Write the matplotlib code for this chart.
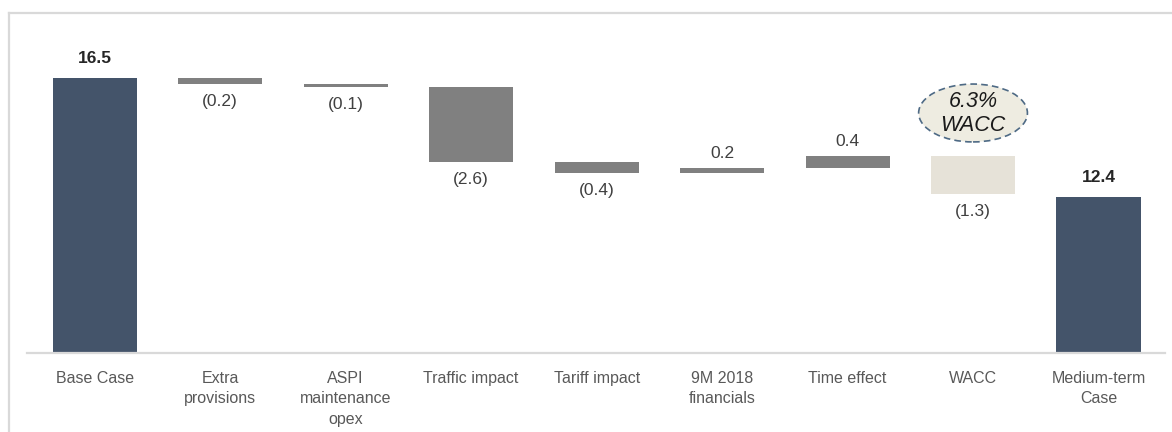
import matplotlib
matplotlib.use("Agg")
import matplotlib.pyplot as plt
from matplotlib.patches import Ellipse
from matplotlib.lines import Line2D

plt.rcParams['font.family'] = ['Liberation Sans', 'DejaVu Sans']

categories = ["Base Case", "Extra\nprovisions", "ASPI\nmaintenance\nopex", "Traffic impact",
              "Tariff impact", "9M 2018\nfinancials", "Time effect", "WACC", "Medium-term\nCase"]
start_value = 16.5
deltas = [-0.2, -0.1, -2.6, -0.4, 0.2, 0.4, -1.3]
end_value = 12.4
wacc_note = "6.3%\nWACC"

TOTAL_COLOR = "#44546A"
STEP_COLOR = "#808080"
WACC_COLOR = "#E6E2D8"
NOTE_FILL = "#EEECE1"
NOTE_EDGE = "#4E6A85"
LABEL_COLOR = "#404040"
AXIS_COLOR = "#D9D9D9"

W, H = 1172, 432
fig = plt.figure(figsize=(W / 100, H / 100), dpi=100)
ax = fig.add_axes([27 / W, 79 / H, (1165 - 27) / W, (353 - 49) / H])
ymin, ymax = 7.0, 17.5
ax.set_xlim(-0.54, 8.53)
ax.set_ylim(ymin, ymax)

bar_w = 0.67
fmt = lambda v: f"{v:.1f}" if v >= 0 else f"({abs(v):.1f})"

# opening total
ax.bar(0, start_value - ymin, bottom=ymin, width=bar_w, color=TOTAL_COLOR, zorder=2)
ax.annotate(f"{start_value:.1f}", (0, start_value), xytext=(0, 12), textcoords="offset pixels",
            ha="center", va="bottom", fontsize=12.5, fontweight="bold", color="#262626")

# floating steps
level = start_value
for i, d in enumerate(deltas, start=1):
    lo, hi = min(level, level + d), max(level, level + d)
    color = WACC_COLOR if categories[i] == "WACC" else STEP_COLOR
    ax.bar(i, hi - lo, bottom=lo, width=bar_w, color=color, zorder=2)
    if d < 0:
        ax.annotate(fmt(d), (i, lo), xytext=(0, -10), textcoords="offset pixels",
                    ha="center", va="top", fontsize=12.5, color=LABEL_COLOR)
    else:
        ax.annotate(fmt(d), (i, hi), xytext=(0, 7), textcoords="offset pixels",
                    ha="center", va="bottom", fontsize=12.5, color=LABEL_COLOR)
    level += d

# closing total
n = len(categories) - 1
ax.bar(n, end_value - ymin, bottom=ymin, width=bar_w, color=TOTAL_COLOR, zorder=2)
ax.annotate(f"{end_value:.1f}", (n, end_value), xytext=(0, 12), textcoords="offset pixels",
            ha="center", va="bottom", fontsize=12.5, fontweight="bold", color="#262626")

# WACC callout bubble
wi = categories.index("WACC")
ax.add_patch(Ellipse((wi, 15.29), 0.867, 2.0, facecolor=NOTE_FILL, edgecolor=NOTE_EDGE,
                     linestyle=(0, (4, 2.5)), linewidth=1.2, zorder=3))
ax.text(wi, 15.27, wacc_note, ha="center", va="center", fontsize=15.5, style="italic",
        color="#1a1a1a", linespacing=1.2, zorder=4)

ax.set_xticks(range(len(categories)))
ax.set_xticklabels(categories, fontsize=11.5, color="#595959", linespacing=1.45, va="top")
ax.tick_params(axis="x", length=0, pad=13)
ax.set_yticks([])
for s in ("top", "right", "left"):
    ax.spines[s].set_visible(False)
ax.spines["bottom"].set_color(AXIS_COLOR)
ax.spines["bottom"].set_linewidth(1.6)
ax.spines["bottom"].set_zorder(3)

# frame lines on the left and top of the figure
fig.add_artist(Line2D([9.5 / W, 9.5 / W], [0, 1 - 13 / H], color=AXIS_COLOR, lw=1.6,
                      transform=fig.transFigure))
fig.add_artist(Line2D([9.5 / W, 1], [1 - 13 / H, 1 - 13 / H], color=AXIS_COLOR, lw=1.6,
                      transform=fig.transFigure))

fig.savefig("out.png", dpi=100)
